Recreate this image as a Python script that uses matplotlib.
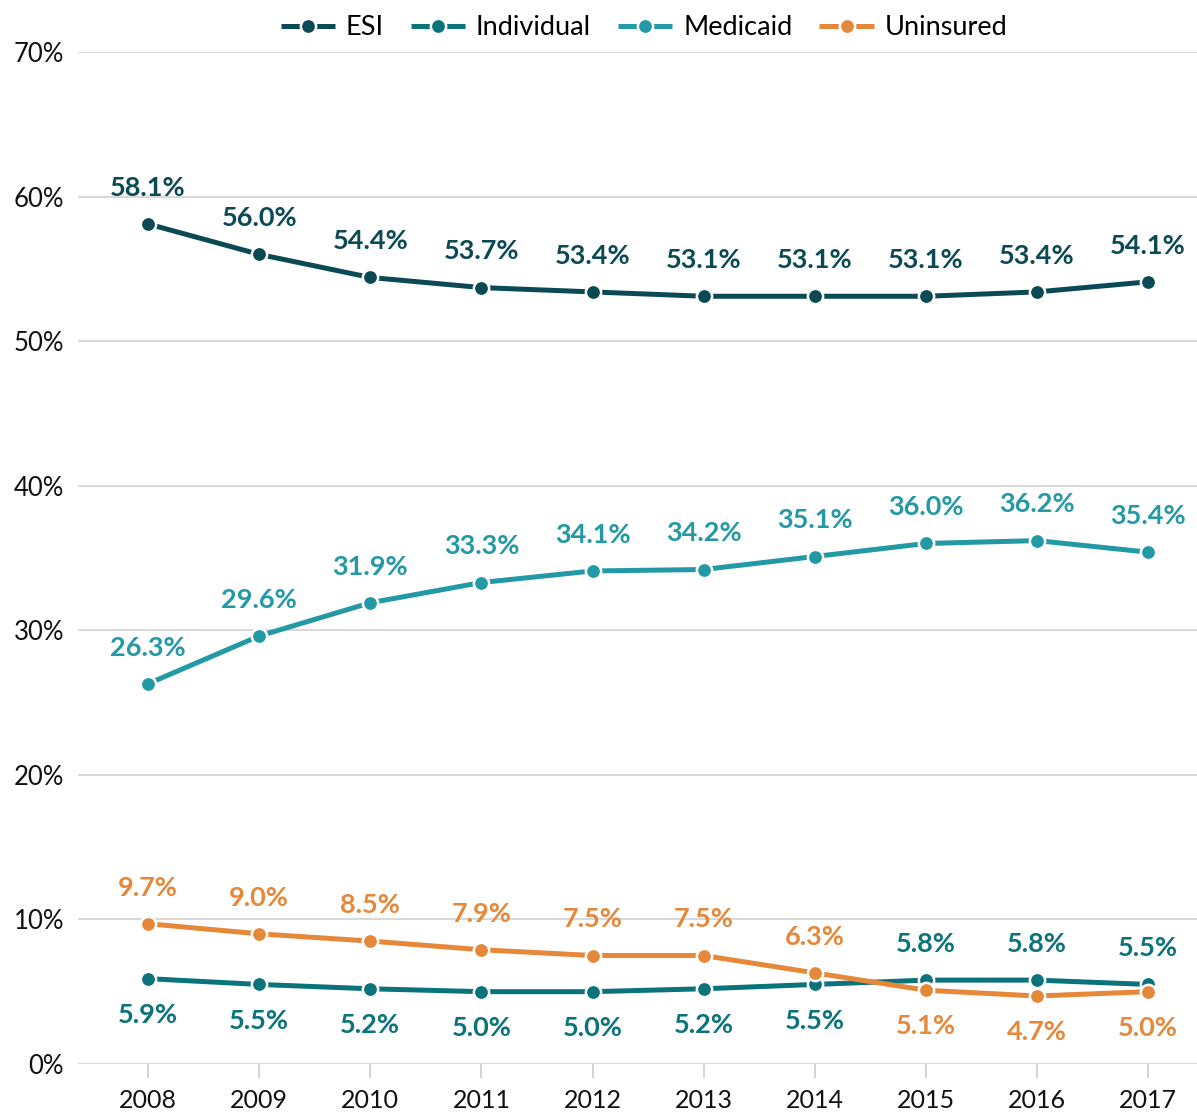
import matplotlib
matplotlib.use("Agg")
import matplotlib.pyplot as plt
import numpy as np

plt.rcParams['font.family'] = ['Lato', 'DejaVu Sans']

years = [2008, 2009, 2010, 2011, 2012, 2013, 2014, 2015, 2016, 2017]
esi = [58.1, 56.0, 54.4, 53.7, 53.4, 53.1, 53.1, 53.1, 53.4, 54.1]
individual = [5.9, 5.5, 5.2, 5.0, 5.0, 5.2, 5.5, 5.8, 5.8, 5.5]
medicaid = [26.3, 29.6, 31.9, 33.3, 34.1, 34.2, 35.1, 36.0, 36.2, 35.4]
uninsured = [9.7, 9.0, 8.5, 7.9, 7.5, 7.5, 6.3, 5.1, 4.7, 5.0]

# label placement: +1 above point, -1 below
esi_pos = [1] * 10
medicaid_pos = [1] * 10
individual_pos = [-1] * 7 + [1] * 3
uninsured_pos = [1] * 7 + [-1] * 3

series = [
    ("ESI", esi, esi_pos, "#0b4a55"),
    ("Individual", individual, individual_pos, "#0a737b"),
    ("Medicaid", medicaid, medicaid_pos, "#2399a6"),
    ("Uninsured", uninsured, uninsured_pos, "#e5883a"),
]

fig = plt.figure(figsize=(11.97, 11.12), dpi=100)
ax = fig.add_axes([0.0652, 0.0432, 0.9348, 0.9101])

for name, vals, pos, col in series:
    ax.plot(years, vals, color=col, lw=3.6, marker='o', markersize=11,
            markerfacecolor=col, markeredgecolor='white', markeredgewidth=1.8,
            label=name, zorder=3, solid_capstyle='butt')
    for x, v, p in zip(years, vals, pos):
        ax.annotate(f"{v:.1f}%", (x, v), xytext=(0, 26 * p), textcoords='offset points',
                    ha='center', va='center', fontsize=19.5, fontweight='bold',
                    color=col, zorder=4)

ax.set_xlim(2007.37, 2017.44)
ax.set_ylim(0, 70)
ax.set_yticks(np.arange(0, 71, 10))
ax.set_yticklabels([f"{t}%" for t in range(0, 71, 10)])
ax.set_xticks(years)
ax.set_xticklabels([str(y) for y in years])
ax.grid(axis='y', color='#d9d9d9', lw=1.5, zorder=0)
ax.set_axisbelow(True)
for s in ax.spines.values():
    s.set_visible(False)
ax.tick_params(axis='y', length=0, labelsize=18.5, pad=10, labelcolor='#111111')
ax.tick_params(axis='x', length=10, width=1.2, color='#cccccc', labelsize=18,
               pad=8, labelcolor='#111111', direction='out')

fig.legend(loc='upper center', bbox_to_anchor=(0.538, 1.008), ncol=4, frameon=False,
           fontsize=19.5, handlelength=2.0, columnspacing=1.0, handletextpad=0.4)

fig.savefig("out.png", dpi=100)
